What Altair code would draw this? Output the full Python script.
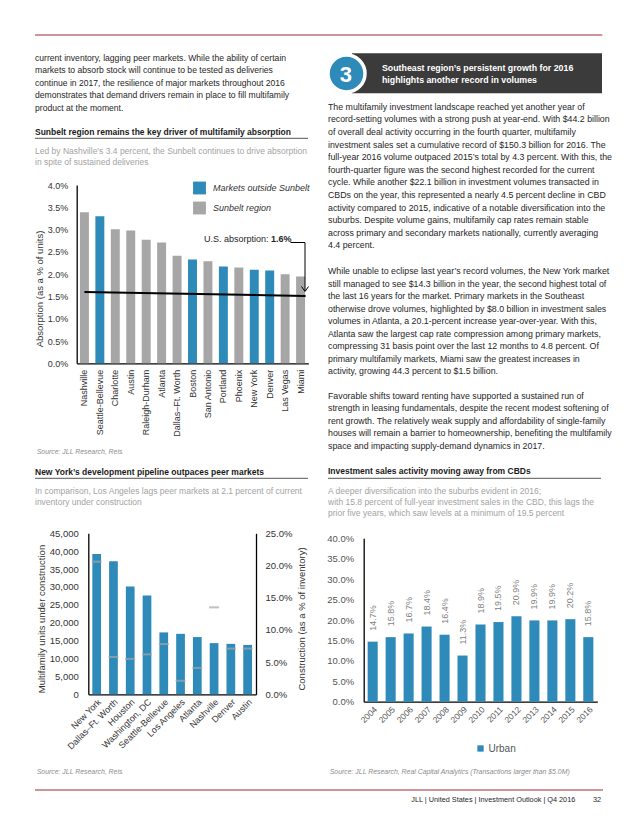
import altair as alt
import pandas as pd

FONT = "Liberation Sans"
W, H = 622, 810
BLUE = "#2E8AB8"
GRAY = "#A6A6A6"
RED = "#9B2B37"
TXT = "#262626"
SUB = "#A3A3A3"
SRC = "#8C8C8C"


def X(p):
    return p - 8


def Y(p):
    return p - 8


# ---------------- data ----------------
OUT = "Markets outside Sunbelt"
SUN = "Sunbelt region"
c1_cities = ["Nashville", "Seattle-Bellevue", "Charlotte", "Austin", "Raleigh-Durham",
             "Atlanta", "Dallas–Ft. Worth", "Boston", "San Antonio", "Portland",
             "Phoenix", "New York", "Denver", "Las Vegas", "Miami"]
c1_values = [3.39, 3.30, 3.01, 2.98, 2.77, 2.71, 2.41, 2.33, 2.29, 2.17, 2.15, 2.10, 2.08, 2.00, 1.95]
c1_groups = [SUN, OUT, SUN, SUN, SUN, SUN, SUN, OUT, SUN, OUT, SUN, OUT, OUT, SUN, SUN]
c1_ticks = [0, 0.5, 1.0, 1.5, 2.0, 2.5, 3.0, 3.5, 4.0]
us_line_start = 1.6
us_line_end = 1.51

c2_cities = ["New York", "Dallas–Ft. Worth", "Houston", "Washington, DC", "Seattle-Bellevue",
             "Los Angeles", "Atlanta", "Nashville", "Denver", "Austin"]
c2_units = [39200, 37200, 30100, 27600, 17300, 16900, 16000, 14300, 14100, 13800]
c2_pct = [20.6, 5.8, 5.5, 6.2, 7.8, 2.1, 4.1, 13.5, 7.1, 7.1]
c2_left_ticks = list(range(0, 45001, 5000))
c2_right_ticks = [0, 5, 10, 15, 20, 25]

c3_years = ["2004", "2005", "2006", "2007", "2008", "2009", "2010",
            "2011", "2012", "2013", "2014", "2015", "2016"]
c3_values = [14.7, 15.8, 16.7, 18.4, 16.4, 11.3, 18.9, 19.5, 20.9, 19.9, 19.9, 20.2, 15.8]
c3_ticks = [0, 5, 10, 15, 20, 25, 30, 35, 40]

left_para = [
    "current inventory, lagging peer markets. While the ability of certain",
    "markets to absorb stock will continue to be tested as deliveries",
    "continue in 2017, the resilience of major markets throughout 2016",
    "demonstrates that demand drivers remain in place to fill multifamily",
    "product at the moment.",
]
p1 = [
    "The multifamily investment landscape reached yet another year of",
    "record-setting volumes with a strong push at year-end. With $44.2 billion",
    "of overall deal activity occurring in the fourth quarter, multifamily",
    "investment sales set a cumulative record of $150.3 billion for 2016. The",
    "full-year 2016 volume outpaced 2015’s total by 4.3 percent. With this, the",
    "fourth-quarter figure was the second highest recorded for the current",
    "cycle. While another $22.1 billion in investment volumes transacted in",
    "CBDs on the year, this represented a nearly 4.5 percent decline in CBD",
    "activity compared to 2015, indicative of a notable diversification into the",
    "suburbs. Despite volume gains, multifamily cap rates remain stable",
    "across primary and secondary markets nationally, currently averaging",
    "4.4 percent.",
]
p2 = [
    "While unable to eclipse last year’s record volumes, the New York market",
    "still managed to see $14.3 billion in the year, the second highest total of",
    "the last 16 years for the market. Primary markets in the Southeast",
    "otherwise drove volumes, highlighted by $8.0 billion in investment sales",
    "volumes in Atlanta, a 20.1-percent increase year-over-year. With this,",
    "Atlanta saw the largest cap rate compression among primary markets,",
    "compressing 31 basis point over the last 12 months to 4.8 percent. Of",
    "primary multifamily markets, Miami saw the greatest increases in",
    "activity, growing 44.3 percent to $1.5 billion.",
]
p3 = [
    "Favorable shifts toward renting have supported a sustained run of",
    "strength in leasing fundamentals, despite the recent modest softening of",
    "rent growth. The relatively weak supply and affordability of single-family",
    "houses will remain a barrier to homeownership, benefiting the multifamily",
    "space and impacting supply-demand dynamics in 2017.",
]
box_title = ["Southeast region’s persistent growth for 2016",
             "highlights another record in volumes"]
h1 = ["Sunbelt region remains the key driver of multifamily absorption"]
s1 = ["Led by Nashville’s 3.4 percent, the Sunbelt continues to drive absorption",
      "in spite of sustained deliveries"]
h2 = ["New York’s development pipeline outpaces peer markets"]
s2 = ["In comparison, Los Angeles lags peer markets at 2.1 percent of current",
      "inventory under construction"]
h3 = ["Investment sales activity moving away from CBDs"]
s3 = ["A deeper diversification into the suburbs evident in 2016;",
      "with  15.8 percent of full-year investment sales in the CBD, this lags the",
      "prior five years, which saw levels at a minimum of 19.5 percent"]
src1 = ["Source: JLL Research, Reis"]
src3 = ["Source: JLL Research, Real Capital Analytics (Transactions larger than $5.0M)"]
footer = ["JLL | United States | Investment Outlook | Q4 2016"]
page_no = ["32"]

ONE = pd.DataFrame({"k": [0]})


# ---------------- helpers ----------------
def text_block(lines, x, y0, lh, size=8.8, color=TXT, weight="normal", style="normal",
               align="left", angle=0):
    df = pd.DataFrame({"t": lines, "i": list(range(len(lines)))})
    return alt.Chart(df).mark_text(
        align=align, baseline="middle", font=FONT, fontSize=size, color=color,
        fontWeight=weight, fontStyle=style, angle=angle
    ).encode(
        x=alt.value(X(x)),
        y=alt.Y("i:Q", scale=alt.Scale(domain=[0, 1], range=[Y(y0), Y(y0 + lh)]), axis=None),
        text="t:N",
    )


def seg(x1, y1, x2, y2, color, width):
    return alt.Chart(ONE).mark_rule(color=color, strokeWidth=width).encode(
        x=alt.value(X(x1)), x2=alt.value(X(x2)), y=alt.value(Y(y1)), y2=alt.value(Y(y2)))


pct_label = "format(datum.value, '.1f') + '%'"

# ---------------- chart 1 ----------------
df1 = pd.DataFrame({"city": c1_cities, "value": c1_values, "group": c1_groups})
sx1 = alt.Scale(domain=c1_cities, range=[X(76.7), X(308.3)], paddingInner=0.42, paddingOuter=0.21)
sy1 = alt.Scale(domain=[0, 4], range=[Y(363.3), Y(185)])
bars1 = alt.Chart(df1).mark_bar().encode(
    x=alt.X("city:N", scale=sx1, axis=alt.Axis(
        orient="bottom", offset=Y(363.3) - H, title=None, labelAngle=-90, labelPadding=6,
        labelFontSize=9, labelColor="#333333")),
    y=alt.Y("value:Q", scale=sy1, axis=alt.Axis(
        orient="left", offset=-X(76.7), title=None, values=c1_ticks, labelExpr=pct_label,
        labelPadding=9, labelFontSize=9, labelColor="#333333")),
    color=alt.Color("group:N", scale=alt.Scale(domain=[OUT, SUN], range=[BLUE, GRAY]),
                    legend=alt.Legend(orient="none", legendX=X(193), legendY=Y(181.5), title=None,
                                      symbolType="square", symbolSize=165, symbolStrokeWidth=0,
                                      labelFontStyle="italic", labelFont=FONT, labelFontSize=9,
                                      labelColor="#333333", rowPadding=7, labelOffset=7)),
)
dfl = pd.DataFrame({"a": [c1_cities[0]], "b": [c1_cities[-1]],
                    "v1": [us_line_start], "v2": [us_line_end]})
line1 = alt.Chart(dfl).mark_rule(color="black", strokeWidth=2, x2Offset=5).encode(
    x=alt.X("a:N", scale=sx1), x2="b:N", y=alt.Y("v1:Q", scale=sy1), y2="v2:Q")
chart1 = alt.layer(bars1, line1)

ann1 = [
    text_block(["U.S. absorption:"], 268.5, 238.7, 12, size=9, color="#262626", align="right"),
    text_block(["1.6%"], 271, 238.7, 12, size=9, color="#262626", weight="bold"),
    seg(290.5, 242.5, 305, 242.5, "black", 1),
    seg(305, 242.5, 305, 291, "black", 1),
    seg(301.5, 286.5, 305, 291.5, "black", 1),
    seg(308.5, 286.5, 305, 291.5, "black", 1),
    text_block(["Absorption (as a % of units)"], 39.5, 289, 12, size=9.5, color="#333333",
               align="center", angle=270),
]

# ---------------- chart 2 ----------------
df2 = pd.DataFrame({"city": c2_cities, "units": c2_units, "pct": c2_pct})
sx2 = alt.Scale(domain=c2_cities, range=[X(88.3), X(256)], paddingInner=0.48, paddingOuter=0.24)
bars2 = alt.Chart(df2).mark_bar(color=BLUE).encode(
    x=alt.X("city:N", scale=sx2, axis=alt.Axis(
        orient="bottom", offset=Y(694.3) - H, title=None, labelAngle=-45, labelPadding=3,
        labelFontSize=9, labelColor="#333333")),
    y=alt.Y("units:Q", scale=alt.Scale(domain=[0, 45000], range=[Y(694.3), Y(533.3)]),
            axis=alt.Axis(orient="left", offset=-X(88.3), title=None, values=c2_left_ticks,
                          format=",d", labelPadding=10, labelFontSize=9.5, labelColor="#333333")),
)
ticks2 = alt.Chart(df2).mark_tick(color=GRAY, size=10, thickness=2).encode(
    x=alt.X("city:N", scale=sx2),
    y=alt.Y("pct:Q", scale=alt.Scale(domain=[0, 25], range=[Y(694.3), Y(533.3)]),
            axis=alt.Axis(orient="right", offset=X(256) - W, title=None, values=c2_right_ticks,
                          labelExpr=pct_label, labelPadding=9, labelFontSize=9.5,
                          labelColor="#333333")),
)
chart2 = alt.layer(bars2, ticks2).resolve_scale(y="independent")
ann2 = [
    text_block(["Multifamily units under construction"], 41.7, 619, 12, size=9.5,
               color="#333333", align="center", angle=270),
    text_block(["Construction (as a % of inventory)"], 301.7, 619, 12, size=9.5,
               color="#333333", align="center", angle=270),
]

# ---------------- chart 3 ----------------
df3 = pd.DataFrame({"year": c3_years, "value": c3_values,
                    "label": [f"{v:.1f}%" for v in c3_values],
                    "series": ["Urban"] * len(c3_years)})
sx3 = alt.Scale(domain=c3_years, range=[X(363.7), X(597.3)], paddingInner=0.44, paddingOuter=0.22)
sy3 = alt.Scale(domain=[0, 40], range=[Y(701.7), Y(538.3)])
bars3 = alt.Chart(df3).mark_bar().encode(
    x=alt.X("year:N", scale=sx3, axis=alt.Axis(
        orient="bottom", offset=Y(701.7) - H, title=None, labelAngle=-45, labelPadding=3,
        labelFontSize=8.5, labelColor="#555555")),
    y=alt.Y("value:Q", scale=sy3, axis=alt.Axis(
        orient="left", offset=-X(363.7), title=None, values=c3_ticks, labelExpr=pct_label,
        labelPadding=10, labelFontSize=9.5, labelColor="#555555")),
    color=alt.Color("series:N", scale=alt.Scale(domain=["Urban"], range=[BLUE]),
                    legend=alt.Legend(orient="none", legendX=X(475.5), legendY=Y(743.5), title=None,
                                      symbolType="square", symbolSize=40, symbolStrokeWidth=0,
                                      labelFont=FONT, labelFontSize=10, labelColor="#555555",
                                      labelOffset=3)),
)
labels3 = alt.Chart(df3).mark_text(angle=270, align="left", baseline="middle", dx=11,
                                   font=FONT, fontSize=9, color="#7F7F7F").encode(
    x=alt.X("year:N", scale=sx3), y=alt.Y("value:Q", scale=sy3), text="label:N")
chart3 = alt.layer(bars3, labels3)

# ---------------- page furniture ----------------
furniture = [
    seg(35, 35, 602.3, 35, RED, 1.2),
    seg(35, 790, 603, 790, RED, 1.2),
    text_block(left_para, 35, 57.7, 12.5, size=8.6),
    text_block(h1, 35, 131.7, 12, size=8.5, weight="bold", color="#1A1A1A"),
    seg(35, 138.3, 308, 138.3, "#555555", 1),
    text_block(s1, 35, 151, 11.2, size=8.5, color=SUB),
    text_block(src1, 36.7, 452, 12, size=6.9, color=SRC, style="italic"),
    text_block(h2, 35, 472.3, 12, size=8.5, weight="bold", color="#1A1A1A"),
    seg(35, 478.3, 308, 478.3, "#555555", 1),
    text_block(s2, 35, 491, 11.2, size=8.5, color=SUB),
    text_block(src1, 36.7, 771.7, 12, size=6.9, color=SRC, style="italic"),
    # right column
    alt.Chart(ONE).mark_rect(color="#3B3B3B").encode(
        x=alt.value(X(352)), x2=alt.value(X(602)), y=alt.value(Y(53.3)), y2=alt.value(Y(93.3))),
    alt.Chart(ONE).mark_circle(size=1369, color=BLUE, opacity=1, stroke="white",
                               strokeWidth=3.5).encode(x=alt.value(X(346.5)), y=alt.value(Y(73.5))),
    text_block(["3"], 345.8, 74.5, 12, size=22, weight="bold", color="white", align="center"),
    text_block(box_title, 382, 68.3, 12, size=8.8, weight="bold", color="white"),
    text_block(p1, 328, 106.7, 12.6),
    text_block(p2, 328, 271, 12.5),
    text_block(p3, 328, 395.7, 12.5),
    text_block(h3, 328, 470.7, 12, size=8.5, weight="bold", color="#1A1A1A"),
    seg(328, 478.3, 601, 478.3, "#555555", 1),
    text_block(s3, 328, 490.7, 11.3, size=8.5, color=SUB),
    text_block(src3, 329.7, 771.7, 12, size=6.9, color=SRC, style="italic"),
    text_block(footer, 575.3, 800.3, 12, size=7.3, color="#262626", align="right"),
    text_block(page_no, 601, 800, 12, size=7.3, color="#262626", align="right"),
]

chart = alt.layer(
    *furniture, chart1, *ann1, chart2, *ann2, chart3
).resolve_scale(
    x="independent", y="independent", color="independent"
).resolve_axis(
    x="independent", y="independent"
).resolve_legend(
    color="independent"
).properties(
    width=W, height=H, autosize=alt.AutoSizeParams(type="none"), padding=0, background="white"
).configure_view(
    stroke=None
).configure_axis(
    labelFont=FONT, domainColor="black", domainWidth=1.3, ticks=False, grid=False
).configure_text(
    font=FONT
)

chart.save("out.html", embed_options={"renderer": "svg", "actions": False})
